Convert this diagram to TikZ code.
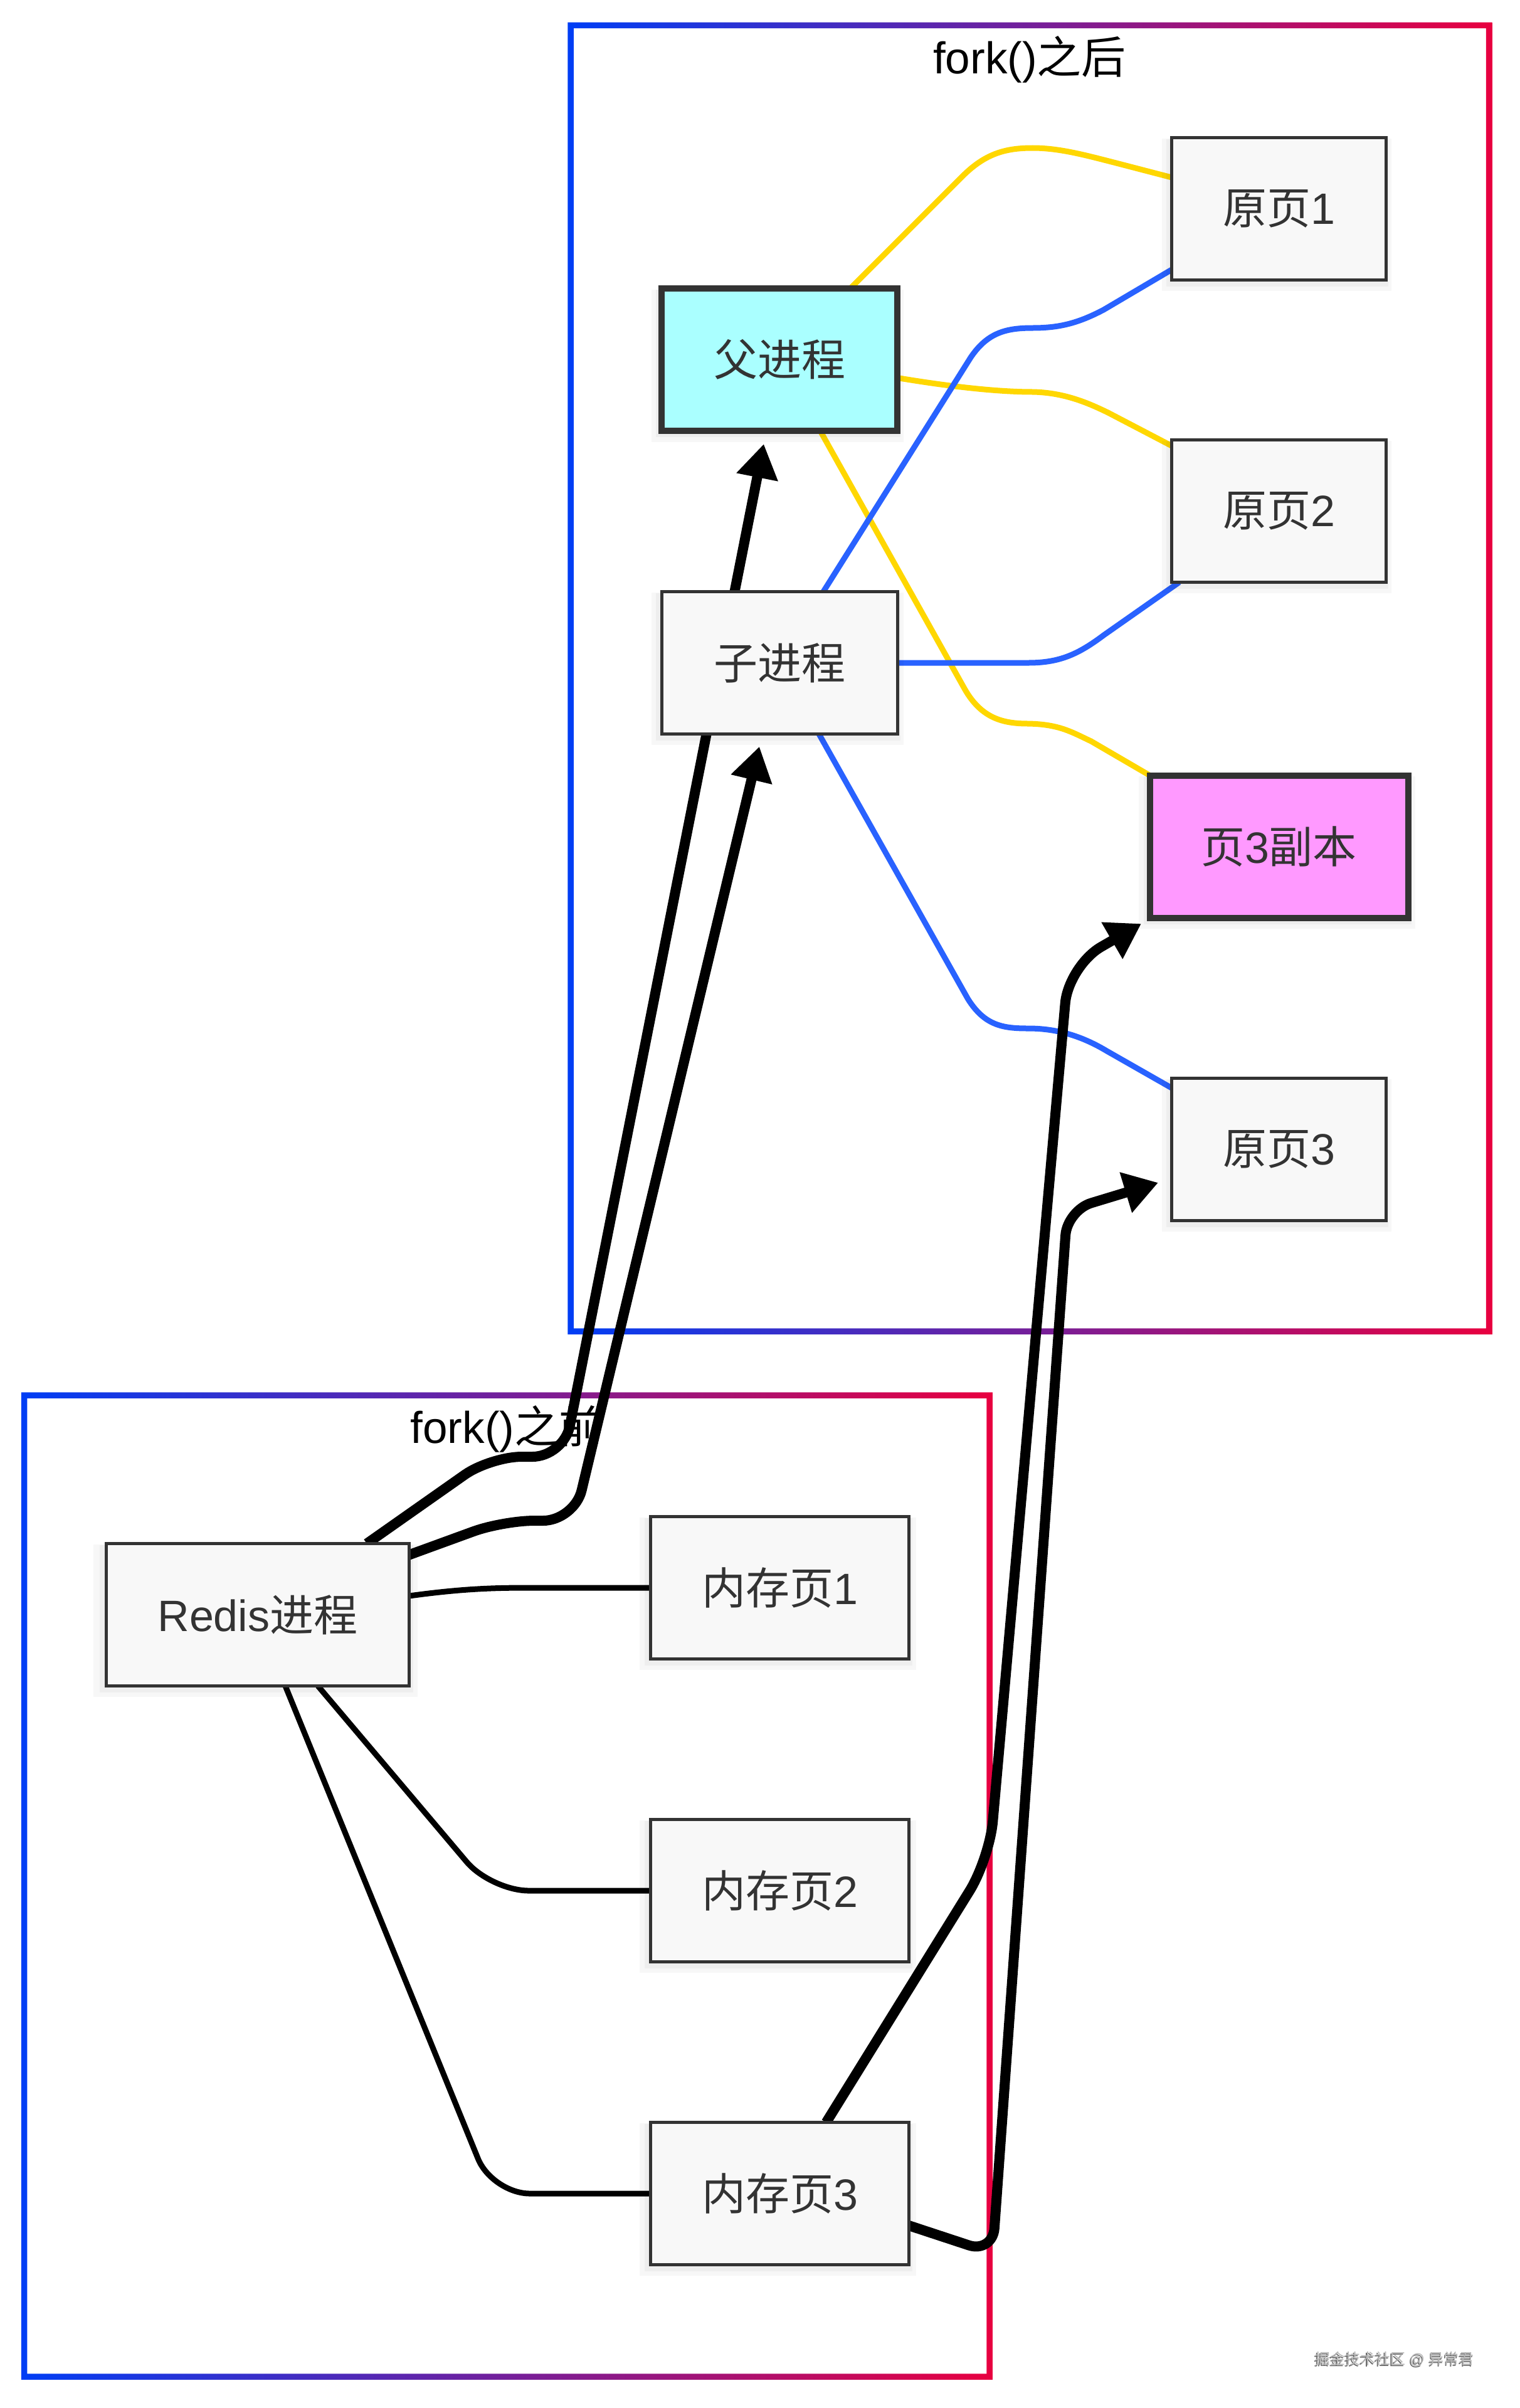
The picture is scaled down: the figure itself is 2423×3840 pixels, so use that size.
\documentclass[tikz,border=0pt]{standalone}
\usepackage{fontspec}
\setmainfont{Liberation Sans}
\newfontfamily\cjk{Noto Sans CJK SC}
\usetikzlibrary{arrows.meta,shadows,calc}
\definecolor{nodefill}{HTML}{F8F8F8}
\definecolor{nodedraw}{HTML}{333333}
\definecolor{gold}{RGB}{255,215,0}
\definecolor{linkblue}{RGB}{41,98,255}
\definecolor{clblue}{RGB}{0,62,245}
\definecolor{clred}{RGB}{232,0,64}
\definecolor{cyanfill}{RGB}{170,255,255}
\definecolor{pinkfill}{RGB}{255,153,255}
\definecolor{txt}{HTML}{333333}
\pgfdeclarelayer{bg}
\pgfdeclarelayer{edges}
\pgfsetlayers{bg,edges,main}
\newcommand{\zh}[1]{{\cjk #1}}
\tikzset{
  box/.style={draw=nodedraw, fill=nodefill, line width=5pt,
    minimum height=227pt, inner sep=0pt, outer sep=0pt, text=txt,
    font=\fontsize{70}{82}\selectfont,
    general shadow={fill=black, opacity=0.03, shadow scale=1.07, shadow xshift=-3pt, shadow yshift=-9pt},
    general shadow={fill=black, opacity=0.035, shadow scale=1.035, shadow xshift=-2pt, shadow yshift=-6pt}},
  hibox/.style={box, line width=10pt},
  cltitle/.style={font=\fontsize{71}{82}\selectfont, text=black, inner sep=0pt},
  ylink/.style={draw=gold, line width=9pt},
  blink/.style={draw=linkblue, line width=9pt},
  klink/.style={draw=black, line width=9pt},
  karrow/.style={draw=black, line width=16pt, rounded corners=50pt,
    -{Triangle[length=54pt,width=64pt]}},
  frame/.style={left color=clblue, right color=clred, even odd rule},
  wm/.style={font=\fontsize{24}{28}\selectfont, inner sep=0pt},
}
\begin{document}
\begin{tikzpicture}[x=1pt,y=-1pt]
\useasboundingbox (0,0) rectangle (2423,3840);
\begin{pgfonlayer}{bg}
  \fill[white] (0,0) rectangle (2423,3840);
  \shade[frame] (905.25,35.75) rectangle (2379.25,2127.75) (914.75,45.25) rectangle (2369.75,2118.25);
  \shade[frame] (33.75,2220.25) rectangle (1582.75,3794.75) (43.25,2229.75) rectangle (1573.25,3785.25);
  \node[cltitle] (T1) at (1642,95) {fork()\zh{之后}};
  \node[cltitle] (T2) at (808.5,2279) {fork()\zh{之前}};
\end{pgfonlayer}

% nodes
\node[hibox, fill=cyanfill, minimum width=376pt] (P) at (1243,573.5) {\zh{父进程}};
\node[box, minimum width=376pt] (C) at (1243,1057) {\zh{子进程}};
\node[box, minimum width=342pt] (O1) at (2039.5,333) {\zh{原页}1};
\node[box, minimum width=342pt] (O2) at (2039.5,815) {\zh{原页}2};
\node[hibox, fill=pinkfill, minimum width=412pt] (P3) at (2039.5,1350) {\zh{页}3\zh{副本}};
\node[box, minimum width=342pt] (O3) at (2039.5,1833) {\zh{原页}3};
\node[box, minimum width=483pt] (R) at (411,2575) {Redis\zh{进程}};
\node[box, minimum width=412pt] (M1) at (1243.5,2532) {\zh{内存页}1};
\node[box, minimum width=412pt] (M2) at (1243.5,3015) {\zh{内存页}2};
\node[box, minimum width=412pt] (M3) at (1243.5,3498) {\zh{内存页}3};

% watermark
\node[wm, text=black!60] (WMs) at (2222.5,3763.5) {\zh{掘金技术社区} @ \zh{异常君}};
\node[wm, text=black!28] (WM) at (2224,3762) {\zh{掘金技术社区} @ \zh{异常君}};

\begin{pgfonlayer}{edges}
  % yellow: parent -> pages
  \draw[ylink] ($(P.north)+(113,0)$) -- (1535,281)
    .. controls (1572,244) and (1605,236) .. (1647,236)
    .. controls (1690,236) and (1733,248) .. (1780,260) -- ($(O1.west)+(0,-50)$);
  \draw[ylink] ($(P.east)+(0,29)$) .. controls (1530,619) and (1600,625) .. (1647,625)
    .. controls (1700,626) and (1740,645) .. (1767,658) -- ($(O2.west)+(0,-104)$);
  \draw[ylink] ($(P.south)+(65,0)$) -- (1538,1098)
    .. controls (1565,1146) and (1600,1154) .. (1640,1154)
    .. controls (1690,1155) and (1710,1168) .. (1740,1182) -- (P3.north west);
  % blue: child -> pages
  \draw[blink] ($(C.north)+(70,0)$) -- (1548,570)
    .. controls (1575,530) and (1605,523) .. (1647,523)
    .. controls (1690,523) and (1720,515) .. (1760,494) -- ($(O1.west)+(0,97)$);
  \draw[blink] (C.east) -- (1640,1057)
    .. controls (1690,1057) and (1720,1043) .. (1760,1013) -- ($(O2.south west)+(12,0)$);
  \draw[blink] ($(C.south)+(63,0)$) -- (1543,1592)
    .. controls (1570,1636) and (1600,1640) .. (1640,1640)
    .. controls (1690,1640) and (1730,1655) .. (1765,1676) -- ($(O3.west)+(0,-98)$);
  % thin black: redis -> memory pages
  \draw[klink] ($(R.east)+(0,-30)$) .. controls (740,2533) and (790,2532) .. (846,2532) -- (M1.west);
  \draw[klink, rounded corners=60pt] ($(R.south)+(96,0)$) -- (783,3015) -- (M2.west);
  \draw[klink, rounded corners=60pt] ($(R.south)+(44,0)$) -- (785,3498) -- (M3.west);
  % thick arrows
  \draw[karrow] ($(R.north)+(174,0)$) -- (782,2323) -- (899,2323) -- ($(P.south)+(-25,21)$);
  \draw[karrow] ($(R.north east)+(0,18)$) -- (802,2425) -- (916,2425) -- ($(C.south)+(-32,20)$);
  \draw[karrow, rounded corners=60pt] ($(M3.north)+(74,0)$) -- (1578,2964) -- (1704,1540) -- ($(P3.south west)+(-13.5,9.5)$);
  \draw[karrow, rounded corners=40pt] ($(M3.east)+(0,51)$) -- (1583,3593) -- (1702,1930) -- ($(O3.west)+(-21.5,53)$);
\end{pgfonlayer}
\end{tikzpicture}
\end{document}
